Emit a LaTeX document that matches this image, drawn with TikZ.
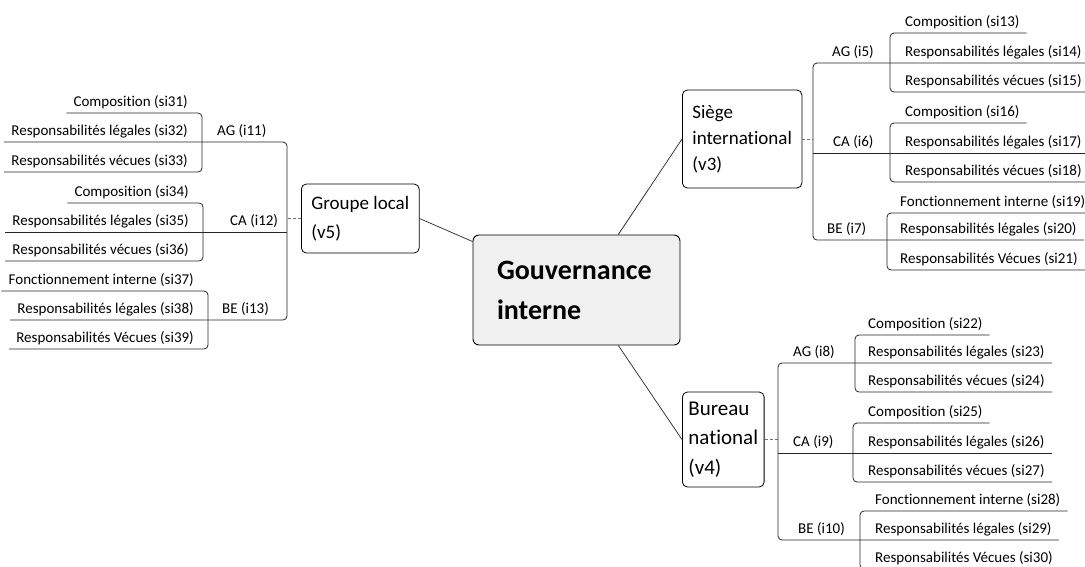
\documentclass[tikz,border=0pt]{standalone}
\usepackage{fontspec}
\setmainfont{Carlito}[Ligatures=NoCommon]

\begin{document}
\begin{tikzpicture}
[
  x=1pt, y=-1pt,
  tline/.style={line width=0.8pt,black!85,rounded corners=4pt},
  conn/.style={line width=0.7pt,black!85},
  link/.style={line width=0.6pt,black!55,densely dashed},
  leaf/.style={inner xsep=0pt,inner ysep=4pt,font=\fontsize{15}{17}\selectfont},
  topic/.style={draw,line width=0.8pt,rounded corners=5pt,align=left,inner xsep=10pt,font=\fontsize{19}{26}\selectfont},
  root/.style={draw,line width=0.9pt,rounded corners=6pt,fill=black!6,align=left,font=\bfseries\fontsize{28}{40}\selectfont}
]
\useasboundingbox (0,0) rectangle (1085,566);
\clip (0,0) rectangle (1085,566);

\node[root,minimum width=207pt,minimum height=110pt,text width=159pt,inner xsep=24pt] (gov) at (576.5,290) {Gouvernance\\interne};

\node[topic,anchor=west,minimum height=98pt] (v3) at (682,139) {Siège\\international\\(v3)};
\node[topic,anchor=west,minimum height=95pt,inner xsep=6pt,font=\fontsize{21}{29.5}\selectfont] (v4) at (682,439.5) {Bureau\\national\\(v4)};
\node[topic,anchor=west,minimum height=69pt,font=\fontsize{19}{29}\selectfont] (v5) at (301,218.5) {Groupe local\\(v5)};

\draw[conn] (v5.east) -- (gov.155);
\draw[conn] (gov.53) -- (v3.west);
\draw[conn] (gov.-53) -- (v4.west);

% Siège international
\coordinate (s3) at (813,0);
\coordinate (k5) at (890,0);
\coordinate (k6) at (890,0);
\coordinate (k7) at (887,0);

\node[leaf,anchor=south west] (i5) at (832,63) {AG (i5)};
\node[leaf,anchor=south west] (i6) at (833,153) {CA (i6)};
\node[leaf,anchor=south west] (i7) at (827,240) {BE (i7)};

\node[leaf,anchor=south west] (si13) at (905,33) {Composition (si13)};
\node[leaf,anchor=south west] (si14) at (905,63) {Responsabilités légales (si14)};
\node[leaf,anchor=south west] (si15) at (905,92) {Responsabilités vécues (si15)};
\node[leaf,anchor=south west] (si16) at (905,123) {Composition (si16)};
\node[leaf,anchor=south west] (si17) at (905,153) {Responsabilités légales (si17)};
\node[leaf,anchor=south west] (si18) at (905,182) {Responsabilités vécues (si18)};
\node[leaf,anchor=south west] (si19) at (900,213) {Fonctionnement interne (si19)};
\node[leaf,anchor=south west] (si20) at (900,240) {Responsabilités légales (si20)};
\node[leaf,anchor=south west] (si21) at (900,270) {Responsabilités Vécues (si21)};

\draw[link] (v3.east) -- (v3.east -| s3);
\draw[tline] ([xshift=7pt]si14.south east) -- (si14.south -| s3) -- (si20.south -| s3) -- ([xshift=7pt]si20.south east);
\draw[tline] (si17.south -| s3) -- ([xshift=7pt]si17.south east);
\draw[tline] ([xshift=7pt]si13.south east) -- (si13.south -| k5) -- (si15.south -| k5) -- ([xshift=7pt]si15.south east);
\draw[tline] ([xshift=7pt]si16.south east) -- (si16.south -| k6) -- (si18.south -| k6) -- ([xshift=7pt]si18.south east);
\draw[tline] ([xshift=7pt]si19.south east) -- (si19.south -| k7) -- (si21.south -| k7) -- ([xshift=7pt]si21.south east);

% Bureau national
\coordinate (s4) at (778,0);
\coordinate (k8) at (855,0);
\coordinate (k9) at (853,0);
\coordinate (k10) at (860,0);

\node[leaf,anchor=south west] (i8) at (793,363) {AG (i8)};
\node[leaf,anchor=south west] (i9) at (793,453) {CA (i9)};
\node[leaf,anchor=south west] (i10) at (798,540) {BE (i10)};

\node[leaf,anchor=south west] (si22) at (868,335) {Composition (si22)};
\node[leaf,anchor=south west] (si23) at (868,363) {Responsabilités légales (si23)};
\node[leaf,anchor=south west] (si24) at (868,392) {Responsabilités vécues (si24)};
\node[leaf,anchor=south west] (si25) at (868,423) {Composition (si25)};
\node[leaf,anchor=south west] (si26) at (868,453) {Responsabilités légales (si26)};
\node[leaf,anchor=south west] (si27) at (868,482) {Responsabilités vécues (si27)};
\node[leaf,anchor=south west] (si28) at (875,511) {Fonctionnement interne (si28)};
\node[leaf,anchor=south west] (si29) at (875,540) {Responsabilités légales (si29)};
\node[leaf,anchor=south west] (si30) at (875,569) {Responsabilités Vécues (si30)};

\draw[link] (v4.east) -- (v4.east -| s4);
\draw[tline] ([xshift=7pt]si23.south east) -- (si23.south -| s4) -- (si29.south -| s4) -- ([xshift=7pt]si29.south east);
\draw[tline] (si26.south -| s4) -- ([xshift=7pt]si26.south east);
\draw[tline] ([xshift=7pt]si22.south east) -- (si22.south -| k8) -- (si24.south -| k8) -- ([xshift=7pt]si24.south east);
\draw[tline] ([xshift=7pt]si25.south east) -- (si25.south -| k9) -- (si27.south -| k9) -- ([xshift=7pt]si27.south east);
\draw[tline] ([xshift=7pt]si28.south east) -- (si28.south -| k10) -- (si30.south -| k10) -- ([xshift=7pt]si30.south east);

% Groupe local
\coordinate (s5) at (287,0);
\coordinate (k11) at (202,0);
\coordinate (k12) at (203,0);
\coordinate (k13) at (208,0);

\node[leaf,anchor=south west] (i11) at (217,142) {AG (i11)};
\node[leaf,anchor=south west] (i12) at (230,232) {CA (i12)};
\node[leaf,anchor=south west] (i13) at (222,320) {BE (i13)};

\node[leaf,anchor=south east] (si31) at (188,113) {Composition (si31)};
\node[leaf,anchor=south east] (si32) at (188,142) {Responsabilités légales (si32)};
\node[leaf,anchor=south east] (si33) at (188,172) {Responsabilités vécues (si33)};
\node[leaf,anchor=south east] (si34) at (189,203) {Composition (si34)};
\node[leaf,anchor=south east] (si35) at (189,232) {Responsabilités légales (si35)};
\node[leaf,anchor=south east] (si36) at (189,261) {Responsabilités vécues (si36)};
\node[leaf,anchor=south east] (si37) at (194,291) {Fonctionnement interne (si37)};
\node[leaf,anchor=south east] (si38) at (194,320) {Responsabilités légales (si38)};
\node[leaf,anchor=south east] (si39) at (194,349) {Responsabilités Vécues (si39)};

\draw[link] (v5.west) -- (v5.west -| s5);
\draw[tline] ([xshift=-7pt]si32.south west) -- (si32.south -| s5) -- (si38.south -| s5) -- ([xshift=-7pt]si38.south west);
\draw[tline] ([xshift=-7pt]si35.south west) -- (si35.south -| s5);
\draw[tline] ([xshift=-7pt]si31.south west) -- (si31.south -| k11) -- (si33.south -| k11) -- ([xshift=-7pt]si33.south west);
\draw[tline] ([xshift=-7pt]si34.south west) -- (si34.south -| k12) -- (si36.south -| k12) -- ([xshift=-7pt]si36.south west);
\draw[tline] ([xshift=-7pt]si37.south west) -- (si37.south -| k13) -- (si39.south -| k13) -- ([xshift=-7pt]si39.south west);
\end{tikzpicture}
\end{document}
